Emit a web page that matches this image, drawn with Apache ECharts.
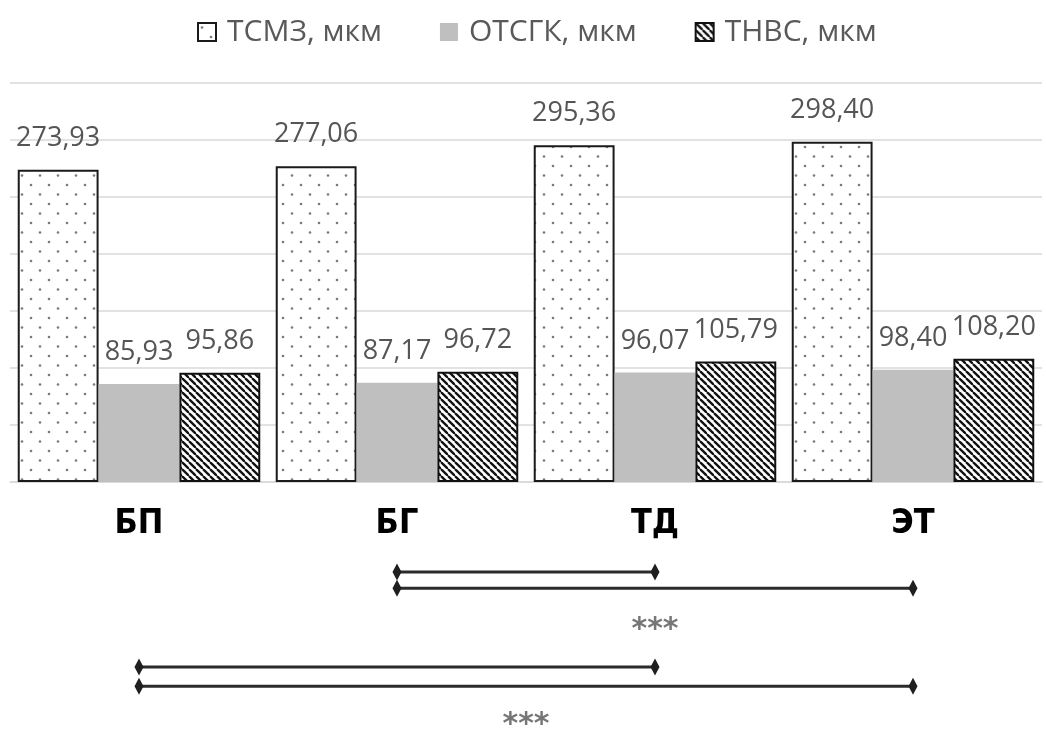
<!DOCTYPE html>
<html>
<head>
<meta charset="utf-8">
<script src="https://cdn.jsdelivr.net/npm/echarts@6/dist/echarts.min.js"></script>
<style>
  html, body { margin: 0; padding: 0; background: #fff; }
  #chart { width: 1046px; height: 733px; }
</style>
</head>
<body>
<div id="chart"></div>
<script>
// data
const categories = ['БП', 'БГ', 'ТД', 'ЭТ']
const seriesNames = ['ТСМЗ, мкм', 'ОТСГК, мкм', 'ТНВС, мкм']
const tsmz = [273.93, 277.06, 295.36, 298.40]
const otsgk = [85.93, 87.17, 96.07, 98.40]
const tnvs = [95.86, 96.72, 105.79, 108.20]
// significance groups: pairs of compared categories + mark
const sigPairs1 = [['БГ', 'ТД'], ['БГ', 'ЭТ']]
const sigPairs2 = [['БП', 'ТД'], ['БП', 'ЭТ']]
const sigMark = '***'

// fill patterns
const makeDots = () => {
  const c = document.createElement('canvas')
  c.width = 18
  c.height = 19
  const ctx = c.getContext('2d')
  ctx.fillStyle = '#fff'
  ctx.fillRect(0, 0, 18, 19)
  ctx.fillStyle = '#7a7a7a'
  ;[[4, 4.5], [13, 14]].forEach(([x, y]) => {
    ctx.beginPath()
    ctx.arc(x, y, 1.3, 0, Math.PI * 2)
    ctx.fill()
  })
  return c
}

const makeStripes = () => {
  const s = 7
  const c = document.createElement('canvas')
  c.width = s
  c.height = s
  const ctx = c.getContext('2d')
  ctx.fillStyle = '#fff'
  ctx.fillRect(0, 0, s, s)
  ctx.strokeStyle = '#111'
  ctx.lineWidth = 2.3
  for (let k = -1; k <= 1; k++) {
    ctx.beginPath()
    ctx.moveTo(k * s, 0)
    ctx.lineTo(k * s + s, s)
    ctx.stroke()
  }
  return c
}

const fmt = p => p.value.toFixed(2).replace('.', ',')
const idx = name => categories.indexOf(name)

const valueLabel = {
  show: true,
  position: 'top',
  distance: 18,
  formatter: fmt,
  fontFamily: 'Open Sans',
  fontSize: 27,
  color: '#555'
}

// bracket rows (layout only), one row = 17px
const bracketRows = [1, 2, 6.9, 8.1]
const starRows = [4.6, 10.5]

const bracketSeries = sigPairs1.concat(sigPairs2).map((pair, i) => ({
  type: 'line',
  xAxisIndex: 1,
  yAxisIndex: 1,
  silent: true,
  data: [[idx(pair[0]), bracketRows[i]], [idx(pair[1]), bracketRows[i]]],
  symbol: 'diamond',
  symbolSize: [9, 17],
  itemStyle: { color: '#1f1f1f' },
  lineStyle: { color: '#2b2b2b', width: 3 }
}))

const starSeries = {
  type: 'scatter',
  xAxisIndex: 1,
  yAxisIndex: 1,
  silent: true,
  symbolSize: 2,
  itemStyle: { color: 'rgba(0,0,0,0)' },
  data: [
    [idx(sigPairs1[0][1]), starRows[0]],
    [(idx(sigPairs2[0][0]) + idx(sigPairs2[1][1])) / 2, starRows[1]]
  ],
  label: {
    show: true,
    position: 'inside',
    formatter: sigMark,
    fontFamily: "'DejaVu Sans', sans-serif",
    fontWeight: 'bold',
    fontSize: 30,
    color: '#555'
  }
}

const chart = echarts.init(document.getElementById('chart'))
chart.setOption({
  animation: false,
  backgroundColor: '#fff',
  legend: {
    data: seriesNames,
    top: 12,
    left: 192,
    icon: 'rect',
    itemWidth: 18,
    itemHeight: 18,
    itemGap: 58,
    textStyle: {
      fontFamily: 'Open Sans',
      fontSize: 30,
      color: '#595959',
      padding: [0, 0, 0, 6]
    }
  },
  grid: [
    { left: 10, right: 4, top: 83, bottom: 251 },
    { left: 10, right: 4, top: 556, height: 187 }
  ],
  xAxis: [
    {
      type: 'category',
      data: categories,
      axisLine: { lineStyle: { color: '#d9d9d9', width: 1.5 } },
      axisTick: { show: false },
      axisLabel: {
        margin: 25,
        fontFamily: "'Liberation Sans Narrow', 'DejaVu Sans Condensed', 'Liberation Sans', sans-serif",
        fontWeight: 'bold',
        fontSize: 34,
        color: '#000'
      }
    },
    { type: 'value', gridIndex: 1, min: -0.5, max: 3.5, show: false }
  ],
  yAxis: [
    {
      type: 'value',
      min: 0,
      max: 350,
      interval: 50,
      axisLabel: { show: false },
      axisLine: { show: false },
      axisTick: { show: false },
      splitLine: { lineStyle: { color: '#d9d9d9', width: 1.5 } }
    },
    { type: 'value', gridIndex: 1, min: 0, max: 11, inverse: true, show: false }
  ],
  series: [
    {
      name: seriesNames[0],
      type: 'bar',
      data: tsmz,
      barGap: '0%',
      barCategoryGap: '6%',
      itemStyle: {
        color: { image: makeDots(), repeat: 'repeat' },
        borderColor: '#1a1a1a',
        borderWidth: 2
      },
      label: valueLabel
    },
    {
      name: seriesNames[1],
      type: 'bar',
      data: otsgk,
      itemStyle: { color: '#bfbfbf' },
      label: valueLabel
    },
    {
      name: seriesNames[2],
      type: 'bar',
      data: tnvs,
      itemStyle: {
        color: { image: makeStripes(), repeat: 'repeat' },
        borderColor: '#111',
        borderWidth: 2
      },
      label: valueLabel
    },
    ...bracketSeries,
    starSeries
  ]
})
</script>
</body>
</html>
